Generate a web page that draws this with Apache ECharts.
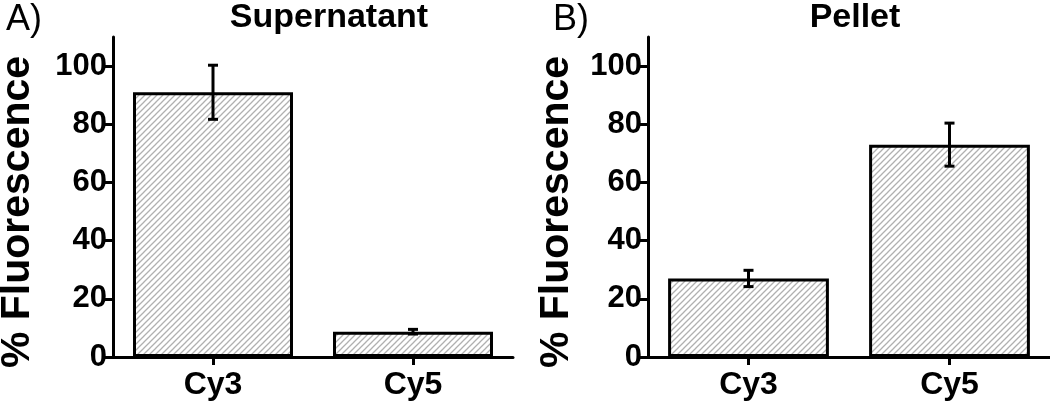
<!DOCTYPE html>
<html>
<head>
<meta charset="utf-8">
<script src="https://cdn.jsdelivr.net/npm/echarts@6/dist/echarts.min.js"></script>
<style>html,body{margin:0;padding:0;background:#fff}#c{width:1050px;height:406px}</style>
</head>
<body>
<div id="c"></div>
<script>
const categories = ['Cy3', 'Cy5'];
const supernatantMean = [91, 8.7];
const supernatantErr = [9.3, 0.8];
const pelletMean = [27, 73];
const pelletErr = [2.8, 7.4];
const yTickValues = [0, 20, 40, 60, 80, 100];
const panelLetters = ['A)', 'B)'];
const panelTitles = ['Supernatant', 'Pellet'];
const yAxisTitle = '% Fluorescence';

const FONT = '"Liberation Sans", Arial, Helvetica, sans-serif';

// hatch pattern
const tile = document.createElement('canvas');
tile.width = 6; tile.height = 6;
const g = tile.getContext('2d');
g.fillStyle = '#ffffff'; g.fillRect(0, 0, 6, 6);
g.strokeStyle = '#b0b0b0'; g.lineWidth = 1.3;
g.beginPath();
g.moveTo(-1, 7); g.lineTo(7, -1);
g.moveTo(-4, 4); g.lineTo(4, -4);
g.moveTo(2, 10); g.lineTo(10, 2);
g.stroke();

const chart = echarts.init(document.getElementById('c'), null, {renderer: 'canvas'});

function axisPair(idx) {
  return {
    x: {
      type: 'category', gridIndex: idx, data: categories,
      axisLine: {show: true, lineStyle: {color: '#000', width: 3}},
      axisTick: {show: true, alignWithLabel: true, length: 8, lineStyle: {color: '#000', width: 3}},
      axisLabel: {color: '#000', fontFamily: FONT, fontWeight: 'bold', fontSize: 32, margin: 12},
      splitLine: {show: false}
    },
    y: {
      type: 'value', gridIndex: idx, min: 0, max: 110,
      axisLine: {show: true, lineStyle: {color: '#000', width: 3}},
      axisTick: {show: true, length: 8, customValues: yTickValues, lineStyle: {color: '#000', width: 3}},
      axisLabel: {color: '#000', fontFamily: FONT, fontWeight: 'bold', fontSize: 31, margin: 6, customValues: yTickValues},
      splitLine: {show: false}
    }
  };
}
const a0 = axisPair(0), a1 = axisPair(1);

function errSeries(idx, means, errs) {
  return {
    type: 'custom', xAxisIndex: idx, yAxisIndex: idx, z: 5,
    data: means.map((m, i) => [i, m, errs[i]]),
    encode: {x: 0, y: 1},
    renderItem: function (params, api) {
      const i = api.value(0), m = api.value(1), e = api.value(2);
      const top = api.coord([i, m + e]);
      const bot = api.coord([i, m - e]);
      const hw = 5;
      const st = {stroke: '#000', lineWidth: 3};
      return {type: 'group', children: [
        {type: 'line', shape: {x1: top[0], y1: top[1], x2: bot[0], y2: bot[1]}, style: st},
        {type: 'line', shape: {x1: top[0] - hw, y1: top[1], x2: top[0] + hw, y2: top[1]}, style: st},
        {type: 'line', shape: {x1: bot[0] - hw, y1: bot[1], x2: bot[0] + hw, y2: bot[1]}, style: st}
      ]};
    }
  };
}

function barSeries(idx, means) {
  return {
    type: 'bar', xAxisIndex: idx, yAxisIndex: idx, data: means, barWidth: '80%',
    itemStyle: {color: {image: tile, repeat: 'repeat'}, borderColor: '#000', borderWidth: 3},
    silent: true
  };
}

function txt(x, y, text, size, weight, rot) {
  return {
    type: 'text', x: x, y: y, rotation: rot || 0,
    style: {text: text, fill: '#000', font: weight + ' ' + size + 'px ' + FONT, align: 'center', verticalAlign: 'middle'}
  };
}

chart.setOption({
  animation: false,
  backgroundColor: '#fff',
  grid: [
    {left: 113, right: 537, top: 37, bottom: 49},
    {left: 648, right: 0, top: 37, bottom: 49}
  ],
  xAxis: [a0.x, a1.x],
  yAxis: [a0.y, a1.y],
  series: [
    barSeries(0, supernatantMean), errSeries(0, supernatantMean, supernatantErr),
    barSeries(1, pelletMean), errSeries(1, pelletMean, pelletErr)
  ],
  graphic: [
    txt(24, 20, panelLetters[0], 36, 'normal'),
    txt(571, 20, panelLetters[1], 36, 'normal'),
    txt(329, 18, panelTitles[0], 34, 'bold'),
    txt(855, 18, panelTitles[1], 34, 'bold'),
    txt(18, 212, yAxisTitle, 41, 'bold', Math.PI / 2),
    txt(557, 212, yAxisTitle, 41, 'bold', Math.PI / 2)
  ]
});
</script>
</body>
</html>
